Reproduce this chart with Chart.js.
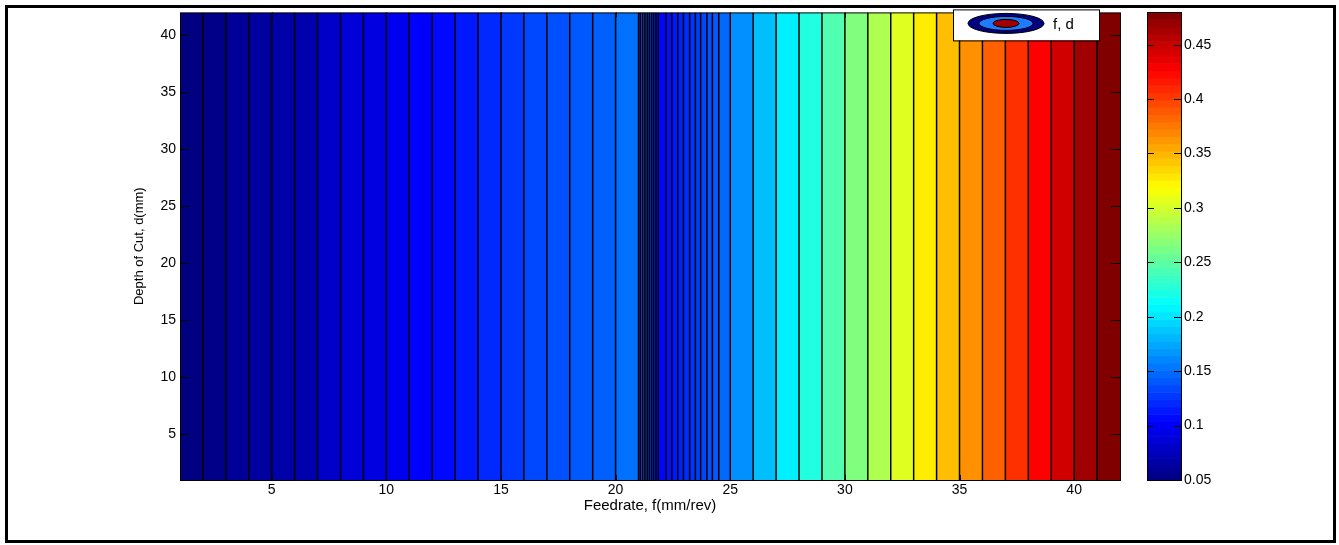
<!DOCTYPE html>
<html>
<head>
<meta charset="utf-8">
<title>Feedrate / Depth of Cut contour</title>
<script src="https://cdn.jsdelivr.net/npm/chart.js@4.4.1/dist/chart.umd.min.js"></script>
<style>
  html, body { margin: 0; padding: 0; background: #fff; }
  #wrap { position: relative; width: 1339px; height: 545px; }
  #mainChart { position: absolute; left: 0; top: 0; }
  #barChart { position: absolute; left: 1140px; top: 0; }
</style>
</head>
<body>
<div id="wrap">
  <canvas id="mainChart" width="1339" height="545"></canvas>
  <canvas id="barChart" width="150" height="545"></canvas>
</div>
<script>
// contour band edges along the feedrate axis
const bandEdges = [
    1, 2, 3, 4, 5, 6, 7, 8, 9, 10, 11, 12, 13, 14, 15, 16, 17, 18, 19, 20, 21,
    21.08, 21.18, 21.28, 21.38, 21.47, 21.57, 21.66, 21.76, 21.86,
    22.2, 22.45, 22.71, 22.96, 23.23, 23.48, 23.71, 23.98, 24.22, 24.5,
    25, 26, 27, 28, 29, 30, 31, 32, 33, 34, 35, 36, 37, 38, 39, 40, 41, 42
];
// level (colour value) of each band between two edges
const bandLevels = [
    0.050, 0.0534, 0.0603, 0.0638, 0.0672, 0.0702, 0.0805, 0.0874, 0.0909, 0.0973,
    0.1038, 0.1072, 0.1136, 0.1205, 0.1274, 0.1339, 0.1373, 0.1407, 0.1442, 0.1511,
    0.145, 0.141, 0.137, 0.133, 0.129, 0.125, 0.121, 0.117, 0.113, 0.106,
    0.110, 0.114, 0.118, 0.122, 0.126, 0.130, 0.134, 0.138, 0.142, 0.148,
    0.1644, 0.1844, 0.2048, 0.2246, 0.2448, 0.265, 0.2852, 0.3054, 0.3263,
    0.3456, 0.3656, 0.3858, 0.406, 0.4263, 0.446, 0.4662, 0.48
];
const feedRange = [1, 42];
const depthRange = [1, 42];
const levelRange = [0.05, 0.48];
const xTicks = [5, 10, 15, 20, 25, 30, 35, 40];
const yTicks = [5, 10, 15, 20, 25, 30, 35, 40];
const cbTicks = [0.05, 0.1, 0.15, 0.2, 0.25, 0.3, 0.35, 0.4, 0.45];
const xTitle = 'Feedrate, f(mm/rev)';
const yTitle = 'Depth of Cut, d(mm)';
const legendText = 'f, d';

Chart.defaults.font.family = "'Liberation Sans', Arial, sans-serif";
Chart.defaults.color = '#000';

// matlab style jet colormap
function jet(v) {
    const t = (v - levelRange[0]) / (levelRange[1] - levelRange[0]);
    const c = x => Math.round(255 * Math.max(0, Math.min(1, x)));
    const r = c(Math.min(4 * t - 1.5, -4 * t + 4.5));
    const g = c(Math.min(4 * t - 0.5, -4 * t + 3.5));
    const b = c(Math.min(4 * t + 0.5, -4 * t + 2.5));
    return `rgb(${r},${g},${b})`;
}

// frame, inward ticks, legend box, outer border
const mainDecor = {
    id: 'mainDecor',
    afterDraw(chart) {
        const { ctx, chartArea: a, scales: { x, y } } = chart;
        ctx.save();
        ctx.strokeStyle = '#000';
        ctx.lineWidth = 1;
        ctx.strokeRect(a.left + 0.5, a.top + 0.5, a.right - a.left, a.bottom - a.top);
        ctx.beginPath();
        xTicks.forEach(v => {
            const px = Math.round(x.getPixelForValue(v)) + 0.5;
            ctx.moveTo(px, a.bottom); ctx.lineTo(px, a.bottom - 5);
            ctx.moveTo(px, a.top); ctx.lineTo(px, a.top + 5);
        });
        yTicks.forEach(v => {
            const py = Math.round(y.getPixelForValue(v)) + 0.5;
            ctx.moveTo(a.left, py); ctx.lineTo(a.left + 9, py);
            ctx.moveTo(a.right, py); ctx.lineTo(a.right - 9, py);
        });
        ctx.stroke();

        // legend box
        const bx = a.right - 167, by = a.top - 3, bw = 146, bh = 31;
        ctx.fillStyle = '#fff';
        ctx.fillRect(bx, by, bw, bh);
        ctx.strokeRect(bx + 0.5, by + 0.5, bw, bh);
        const cx = bx + 53, cy = by + 14;
        [[38, 10, jet(0.05)], [27, 7, '#1e7bff'], [13, 4, '#a00000']].forEach(([rx, ry, col]) => {
            ctx.beginPath();
            ctx.ellipse(cx, cy, rx, ry, 0, 0, Math.PI * 2);
            ctx.fillStyle = col;
            ctx.fill();
            ctx.strokeStyle = '#000';
            ctx.stroke();
        });
        ctx.fillStyle = '#000';
        ctx.font = "15px 'Liberation Sans', Arial, sans-serif";
        ctx.textBaseline = 'middle';
        ctx.fillText(legendText, bx + 100, cy + 1);

        // outer border of the figure
        ctx.lineWidth = 3;
        ctx.strokeRect(6.5, 6.5, 1328, 535);
        ctx.restore();
    }
};

const cbDecor = {
    id: 'cbDecor',
    beforeDatasetsDraw(chart) {
        const { ctx, chartArea: a, scales: { y } } = chart;
        const n = 64;
        const span = levelRange[1] - levelRange[0];
        for (let k = 0; k < n; k++) {
            const lo = levelRange[0] + span * k / n;
            const hi = levelRange[0] + span * (k + 1) / n;
            const y0 = y.getPixelForValue(lo), y1 = y.getPixelForValue(hi);
            ctx.fillStyle = jet((lo + hi) / 2);
            ctx.fillRect(a.left, y1, a.right - a.left, y0 - y1 + 0.6);
        }
    },
    afterDraw(chart) {
        const { ctx, chartArea: a, scales: { y } } = chart;
        ctx.save();
        ctx.strokeStyle = '#000';
        ctx.lineWidth = 1;
        ctx.strokeRect(a.left + 0.5, a.top + 0.5, a.right - a.left, a.bottom - a.top);
        ctx.beginPath();
        cbTicks.forEach(v => {
            const py = Math.round(y.getPixelForValue(v)) + 0.5;
            ctx.moveTo(a.left, py); ctx.lineTo(a.left + 7, py);
            ctx.moveTo(a.right, py); ctx.lineTo(a.right - 7, py);
        });
        ctx.stroke();
        ctx.restore();
    }
};

document.addEventListener('DOMContentLoaded', () => {
    // vertical contour lines
    const edgeLines = {
        label: 'edges',
        data: [],
        borderColor: '#000',
        borderWidth: 1.5,
        pointRadius: 0,
        fill: false,
        spanGaps: false,
        order: 0,
    };
    bandEdges.slice(1, -1).forEach(e => {
        edgeLines.data.push({ x: e, y: depthRange[0] }, { x: e, y: depthRange[1] }, { x: e, y: null });
    });

    // filled bands
    const bands = bandLevels.map((lv, i) => ({
        label: 'band' + i,
        data: [{ x: bandEdges[i], y: depthRange[1] }, { x: bandEdges[i + 1], y: depthRange[1] }],
        backgroundColor: jet(lv),
        borderColor: 'transparent',
        borderWidth: 0,
        pointRadius: 0,
        fill: 'start',
        order: 1,
    }));

    new Chart(document.getElementById('mainChart'), {
        type: 'line',
        data: { datasets: [edgeLines, ...bands] },
        options: {
            responsive: false,
            animation: false,
            events: [],
            layout: { padding: { top: 12, right: 219, bottom: 0, left: 0 } },
            plugins: { legend: { display: false }, tooltip: { enabled: false } },
            scales: {
                x: {
                    type: 'linear',
                    min: feedRange[0],
                    max: feedRange[1],
                    grid: { display: false, drawTicks: false },
                    border: { display: false },
                    ticks: { font: { size: 14 }, padding: 2, maxRotation: 0 },
                    title: { display: true, text: xTitle, font: { size: 15 }, padding: { top: 0, bottom: 30 } },
                    afterBuildTicks: s => { s.ticks = xTicks.map(v => ({ value: v })); },
                    afterFit: s => { s.height = 65; },
                },
                y: {
                    type: 'linear',
                    min: depthRange[0],
                    max: depthRange[1],
                    grid: { display: false, drawTicks: false },
                    border: { display: false },
                    ticks: { font: { size: 14 }, padding: 4 },
                    title: { display: true, text: yTitle, font: { size: 13 }, padding: { top: 132, bottom: 0 } },
                    afterBuildTicks: s => { s.ticks = yTicks.map(v => ({ value: v })); },
                    afterFit: s => { s.width = 180; },
                },
            },
        },
        plugins: [mainDecor],
    });

    // colour bar
    new Chart(document.getElementById('barChart'), {
        type: 'line',
        data: { datasets: [] },
        options: {
            responsive: false,
            animation: false,
            events: [],
            layout: { padding: { top: 12, right: 0, bottom: 65, left: 7 } },
            plugins: { legend: { display: false }, tooltip: { enabled: false } },
            scales: {
                x: { type: 'linear', min: 0, max: 1, display: false },
                y: {
                    type: 'linear',
                    position: 'right',
                    min: levelRange[0],
                    max: levelRange[1],
                    grid: { display: false, drawTicks: false },
                    border: { display: false },
                    ticks: { font: { size: 14 }, padding: 3, callback: v => String(+v.toFixed(2)) },
                    afterBuildTicks: s => { s.ticks = cbTicks.map(v => ({ value: v })); },
                    afterFit: s => { s.width = 109; },
                },
            },
        },
        plugins: [cbDecor],
    });
});
</script>
</body>
</html>
